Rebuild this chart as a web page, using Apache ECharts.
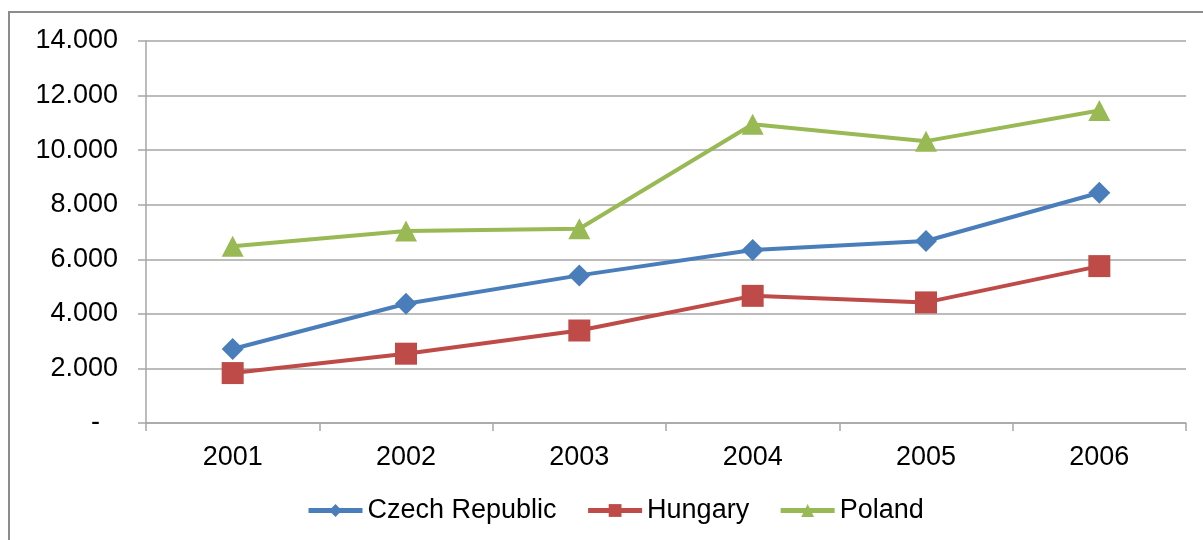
<!DOCTYPE html>
<html>
<head>
<meta charset="utf-8">
<script src="https://cdn.jsdelivr.net/npm/echarts@6/dist/echarts.min.js"></script>
<style>
  html, body { margin: 0; padding: 0; background: #ffffff; }
  #chart { width: 1203px; height: 540px; }
</style>
</head>
<body>
<div id="chart"></div>
<script>
// Years on the category axis
const years = ['2001', '2002', '2003', '2004', '2005', '2006'];

// One value per year for each country
const czechRepublic = [2710, 4370, 5410, 6340, 6670, 8440];
const hungary       = [1830, 2540, 3390, 4660, 4420, 5750];
const poland        = [6480, 7040, 7120, 10950, 10330, 11450];

// Value axis ticks and their printed labels
const yTicks = [0, 2000, 4000, 6000, 8000, 10000, 12000, 14000];
const yTickLabels = ['-', '2.000', '4.000', '6.000', '8.000', '10.000', '12.000', '14.000'];

const FONT = '"Liberation Sans", Arial, sans-serif';
const FONT_SIZE = 27;
const GRID_GRAY = '#a6a6a6';

const chart = echarts.init(document.getElementById('chart'), null, { renderer: 'canvas' });

function lineSeries(name, data, color, symbol, size) {
  return {
    name: name,
    type: 'line',
    data: data,
    symbol: symbol,
    symbolSize: size,
    showAllSymbol: true,
    lineStyle: { color: color, width: 4 },
    itemStyle: { color: color, borderWidth: 0 },
    emphasis: { disabled: true },
    animation: false
  };
}

chart.setOption({
  animation: false,
  backgroundColor: '#ffffff',
  graphic: [{
    type: 'rect',
    shape: { x: 9, y: 12, width: 1400, height: 700 },
    style: { fill: 'none', stroke: '#8c8c8c', lineWidth: 2 },
    silent: true,
    z: 0
  }],
  grid: { left: 146, right: 17, top: 41, bottom: 117, containLabel: false },
  legend: {
    bottom: 11,
    left: 301,
    itemWidth: 54,
    itemHeight: 16,
    itemGap: 29,
    lineStyle: { width: 5 },
    textStyle: { fontFamily: FONT, fontSize: FONT_SIZE, color: '#000000' },
    data: ['Czech Republic', 'Hungary', 'Poland']
  },
  xAxis: {
    type: 'category',
    data: years,
    boundaryGap: true,
    axisLine: { show: true, lineStyle: { color: GRID_GRAY, width: 1.5 } },
    axisTick: { show: true, length: 8, inside: false, alignWithLabel: false, lineStyle: { color: GRID_GRAY, width: 1.5 } },
    axisLabel: { fontFamily: FONT, fontSize: FONT_SIZE, color: '#000000', margin: 21 },
    splitLine: { show: false }
  },
  yAxis: {
    type: 'value',
    min: yTicks[0],
    max: yTicks[yTicks.length - 1],
    interval: yTicks[1] - yTicks[0],
    axisLine: { show: true, lineStyle: { color: GRID_GRAY, width: 1.5 } },
    axisTick: { show: true, length: 8, inside: false, lineStyle: { color: GRID_GRAY, width: 1.5 } },
    axisLabel: {
      fontFamily: FONT, fontSize: FONT_SIZE, color: '#000000', margin: 28,
      formatter: function (v) {
        const i = yTicks.indexOf(v);
        const txt = i >= 0 ? yTickLabels[i] : String(v);
        return v === 0 ? '{z|' + txt + '}' : txt;
      },
      rich: { z: { fontFamily: FONT, fontSize: FONT_SIZE, color: '#000000', padding: [0, 18, 0, 0] } }
    },
    splitLine: { show: true, lineStyle: { color: GRID_GRAY, width: 1.5 } }
  },
  series: [
    lineSeries('Czech Republic', czechRepublic, '#4a7ebb', 'diamond', [22, 22]),
    lineSeries('Hungary', hungary, '#be4b48', 'rect', 22),
    lineSeries('Poland', poland, '#98b954', 'triangle', [22, 21])
  ]
});
</script>
</body>
</html>
